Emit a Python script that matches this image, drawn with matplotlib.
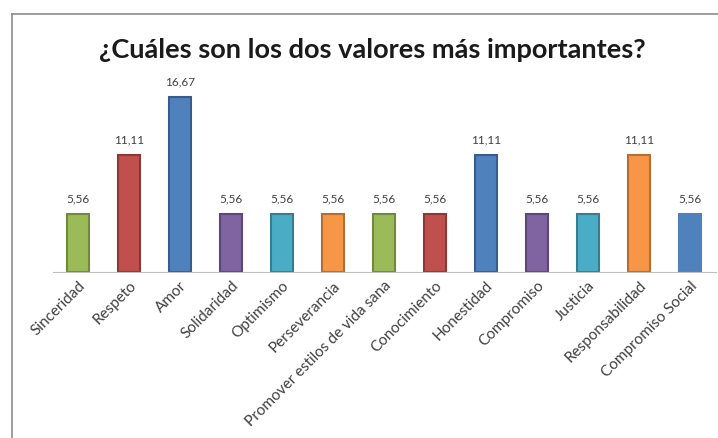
import matplotlib.pyplot as plt
from matplotlib.lines import Line2D

# Encuesta: valores más importantes (porcentaje)
valores = ["Sinceridad", "Respeto", "Amor", "Solidaridad", "Optimismo",
           "Perseverancia", "Promover estilos de vida sana", "Conocimiento",
           "Honestidad", "Compromiso", "Justicia", "Responsabilidad",
           "Compromiso Social"]
porcentajes = [5.56, 11.11, 16.67, 5.56, 5.56, 5.56, 5.56, 5.56,
               11.11, 5.56, 5.56, 11.11, 5.56]
colores = ["#9BBB59", "#C0504D", "#4F81BD", "#8064A2", "#4BACC6", "#F79646",
           "#9BBB59", "#C0504D", "#4F81BD", "#8064A2", "#4BACC6", "#F79646",
           "#4F81BD"]
bordes = ["#71893F", "#8C3836", "#385D8A", "#5C4776", "#357D91", "#B66D31",
          "#71893F", "#8C3836", "#385D8A", "#5C4776", "#357D91", "#B66D31",
          "#4F81BD"]

W, H = 718, 438
fig = plt.figure(figsize=(W / 100, H / 100), dpi=100)
fig.patch.set_facecolor("white")

# marco del gráfico
fig.add_artist(Line2D([12 / W, 12 / W], [0, 1 - 14 / H], color="#8C8C8C", lw=1.2))
fig.add_artist(Line2D([12 / W, 1], [1 - 14 / H, 1 - 14 / H], color="#8C8C8C", lw=1.2))

fig.text(372 / W, 1 - 50 / H, "¿Cuáles son los dos valores más importantes?",
         ha="center", va="center", fontsize=19.5, fontweight="bold",
         family="Lato", color="#1A1A1A")

ax = fig.add_axes([52.5 / W, 166 / H, 663 / W, 210 / H])
x = list(range(len(valores)))
ax.bar(x, porcentajes, width=0.42, color=colores, edgecolor=bordes, linewidth=1.5)
ax.set_xlim(-0.5, len(valores) - 0.5)
ax.set_ylim(0, 20)

for xi, v in zip(x, porcentajes):
    ax.text(xi, v + 0.9, f"{v:.2f}".replace(".", ","), ha="center", va="bottom",
            fontsize=8.5, family="Lato", color="#404040")

for s in ["top", "right", "left"]:
    ax.spines[s].set_visible(False)
ax.spines["bottom"].set_color("#BFBFBF")
ax.set_yticks([])
ax.set_xticks(x)
ax.set_xticklabels(valores, rotation=45, ha="right", rotation_mode="anchor",
                   fontsize=11, family="Lato", color="#404040")
ax.tick_params(axis="x", length=0, pad=5)

fig.savefig("out.png", dpi=100)
